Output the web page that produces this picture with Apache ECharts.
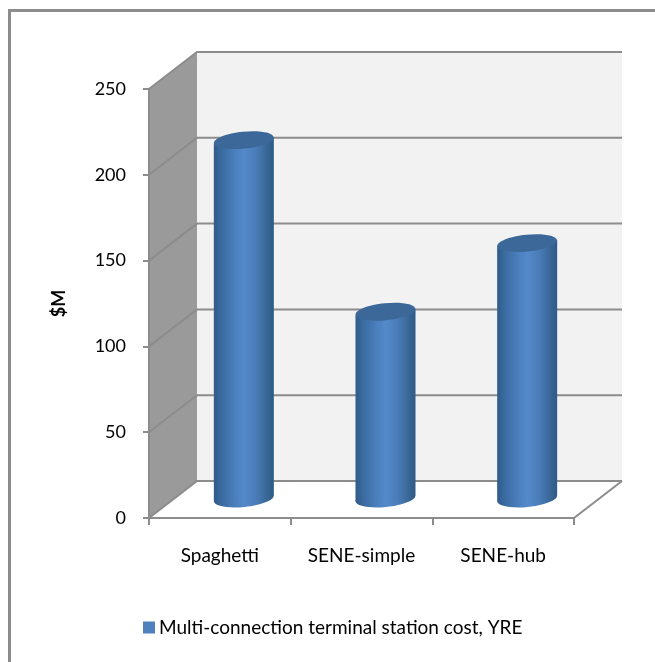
<!DOCTYPE html>
<html>
<head>
<meta charset="utf-8">
<title>Terminal station cost</title>
<script src="https://cdn.jsdelivr.net/npm/echarts@6/dist/echarts.min.js"></script>
<style>
    html, body { margin: 0; padding: 0; background: #fff; }
    #chart { width: 655px; height: 662px; }
</style>
</head>
<body>
<div id="chart"></div>
<script>
var categories = ['Spaghetti', 'SENE-simple', 'SENE-hub'];
var costs = [210, 110, 150];
var valueTicks = [0, 50, 100, 150, 200, 250];
var seriesName = 'Multi-connection terminal station cost, YRE';

// fake 3d depth, the back wall sits this far from the axis plane
var depthX = 48;
var depthY = -37;
var lineGrey = '#8c8c8c';

var bodyGradient = {
    type: 'linear', x: 0, y: 0, x2: 1, y2: 0,
    colorStops: [
        { offset: 0, color: '#2f5b89' },
        { offset: 0.12, color: '#3a6a9f' },
        { offset: 0.35, color: '#4b7fbd' },
        { offset: 0.5, color: '#5489ca' },
        { offset: 0.7, color: '#4a7cb8' },
        { offset: 0.88, color: '#396897' },
        { offset: 1, color: '#2e5a85' }
    ]
};

function renderWalls(params, api) {
    var g = params.coordSys;
    var left = g.x, right = g.x + g.width, top = g.y, bottom = g.y + g.height;
    return {
        type: 'group',
        children: [
            { type: 'polygon', shape: { points: [[left + depthX, top + depthY], [right + depthX, top + depthY], [right + depthX, bottom + depthY], [left + depthX, bottom + depthY]] }, style: { fill: '#f2f2f2' } },
            { type: 'polygon', shape: { points: [[left, top], [left + depthX, top + depthY], [left + depthX, bottom + depthY], [left, bottom]] }, style: { fill: '#9a9a9a' } }
        ]
    };
}

function renderGridLine(params, api) {
    var g = params.coordSys;
    var y = api.coord([0, api.value(0)])[1];
    return {
        type: 'polyline',
        shape: { points: [[g.x, y], [g.x + depthX, y + depthY], [g.x + g.width + depthX, y + depthY]] },
        style: { fill: null, stroke: lineGrey, lineWidth: 2 }
    };
}

function renderFloorEdge(params, api) {
    var g = params.coordSys;
    var x = g.x + g.width, y = g.y + g.height;
    return {
        type: 'line',
        shape: { x1: x, y1: y, x2: x + depthX, y2: y + depthY },
        style: { stroke: lineGrey, lineWidth: 2 }
    };
}

function renderCylinder(params, api) {
    var rx = 30, ry = 8.5, tilt = 3;
    var top = api.coord([api.value(0), api.value(1)]);
    var base = api.coord([api.value(0), 0]);
    var cx = top[0] + depthX / 2;
    var topY = top[1] + depthY / 2 + 1;
    var baseY = base[1] + depthY / 2 - 1;
    return {
        type: 'group',
        children: [
            { type: 'ellipse', shape: { cx: cx, cy: baseY, rx: rx, ry: ry }, rotation: 0.1, originX: cx, originY: baseY, style: { fill: bodyGradient } },
            { type: 'polygon', shape: { points: [[cx - rx, topY + tilt], [cx + rx, topY - tilt], [cx + rx, baseY - tilt], [cx - rx, baseY + tilt]] }, style: { fill: bodyGradient } },
            { type: 'ellipse', shape: { cx: cx, cy: topY, rx: rx, ry: ry }, rotation: 0.1, originX: cx, originY: topY, style: { fill: '#3b6899' } }
        ]
    };
}

var myChart = echarts.init(document.getElementById('chart'));
var option = {
    animation: false,
    backgroundColor: '#fff',
    textStyle: { fontFamily: 'Lato' },
    graphic: [
        { type: 'polyline', shape: { points: [[9.5, 662], [9.5, 10.5], [655, 10.5]] }, style: { fill: null, stroke: lineGrey, lineWidth: 3 } }
    ],
    legend: {
        left: 138,
        top: 613,
        itemWidth: 12,
        itemHeight: 12,
        itemGap: 0,
        icon: 'rect',
        data: [seriesName],
        textStyle: { fontFamily: 'Lato', fontSize: 19, color: '#000', padding: [0, 0, 0, -1] }
    },
    grid: { left: 149, top: 89, width: 425, height: 429 },
    xAxis: {
        type: 'category',
        data: categories,
        z: 5,
        axisLine: { lineStyle: { color: lineGrey, width: 2 } },
        axisTick: { show: true, alignWithLabel: false, length: 7, lineStyle: { color: lineGrey, width: 2 } },
        axisLabel: { color: '#000', fontSize: 19, margin: 28 }
    },
    yAxis: {
        type: 'value',
        min: 0,
        max: 250,
        interval: 50,
        z: 5,
        name: '$M',
        nameLocation: 'middle',
        nameGap: 81,
        nameTextStyle: { color: '#000', fontSize: 18, fontWeight: 'bold' },
        axisLine: { show: true, lineStyle: { color: lineGrey, width: 2 } },
        axisTick: { show: true, length: 6, lineStyle: { color: lineGrey, width: 2 } },
        axisLabel: { color: '#000', fontSize: 18, margin: 23 },
        splitLine: { show: false }
    },
    series: [
        { type: 'custom', name: 'walls', silent: true, z: 1, renderItem: renderWalls, data: [0] },
        { type: 'custom', name: 'gridlines', silent: true, z: 2, renderItem: renderGridLine, encode: { y: 0 }, data: valueTicks },
        { type: 'custom', name: 'floor', silent: true, z: 2, renderItem: renderFloorEdge, data: [0] },
        {
            type: 'custom',
            name: seriesName,
            z: 3,
            itemStyle: { color: '#4f81bd' },
            renderItem: renderCylinder,
            encode: { x: 0, y: 1 },
            data: costs.map(function (v, i) { return [categories[i], v]; })
        }
    ]
};
myChart.setOption(option);
</script>
</body>
</html>
